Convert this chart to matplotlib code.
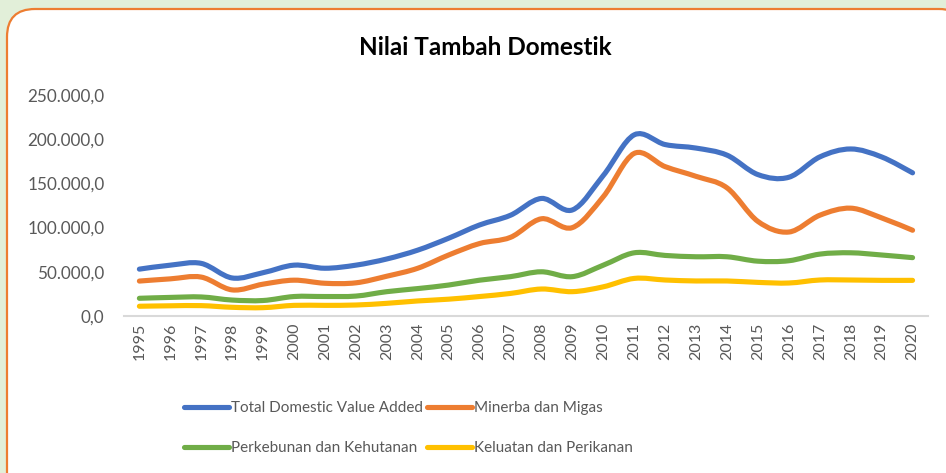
import matplotlib
matplotlib.use('Agg')
import matplotlib.pyplot as plt
from matplotlib.path import Path
from matplotlib.patches import PathPatch, FancyBboxPatch
from matplotlib.lines import Line2D
from matplotlib.ticker import FuncFormatter
import numpy as np

plt.rcParams['font.family'] = ['Lato', 'DejaVu Sans']

years = [str(y) for y in range(1995, 2021)]

total_dva = [53000, 57500, 59500, 43000, 49000, 57500, 54000, 57500, 64500, 74500,
             88000, 103000, 114000, 133000, 120000, 159000, 205000, 194000, 190000, 182000,
             160000, 157000, 180000, 189000, 180000, 162000]
minerba_migas = [39500, 42000, 44000, 29500, 36000, 40500, 37000, 37500, 45000, 54000,
                 69000, 82000, 89000, 110000, 100000, 135000, 184000, 169000, 158000, 145000,
                 107000, 95000, 114000, 122000, 111000, 97000]
perkebunan = [20000, 21000, 21500, 18000, 17500, 22000, 22000, 22500, 27500, 31000,
              35000, 40500, 44500, 50000, 44500, 57500, 71500, 68500, 67000, 67000,
              62000, 62500, 70000, 71500, 69000, 66000]
kelautan = [11000, 11500, 11700, 9800, 9400, 12000, 12000, 12400, 14300, 17000,
            19000, 22000, 25500, 30500, 27500, 33000, 42500, 40700, 39600, 39600,
            38000, 37300, 40700, 40700, 40300, 40300]

series_names = ['Total Domestic Value Added', 'Minerba dan Migas',
                'Perkebunan dan Kehutanan', 'Keluatan dan Perikanan']
series_values = [total_dva, minerba_migas, perkebunan, kelautan]
colors = ['#4472C4', '#ED7D31', '#70AD47', '#FFC000']

text_gray = '#595959'


def smooth_path(xs, ys):
    # excel-like smoothed line: bezier segments with catmull-rom control points
    pts = np.column_stack([xs, ys]).astype(float)
    n = len(pts)
    verts = [pts[0]]
    codes = [Path.MOVETO]
    for i in range(n - 1):
        p0 = pts[i - 1] if i > 0 else pts[i]
        p1 = pts[i]
        p2 = pts[i + 1]
        p3 = pts[i + 2] if i + 2 < n else pts[i + 1]
        c1 = p1 + (p2 - p0) / 6.0
        c2 = p2 - (p3 - p1) / 6.0
        verts += [c1, c2, p2]
        codes += [Path.CURVE4] * 3
    return Path(verts, codes)


fig = plt.figure(figsize=(9.46, 4.73), dpi=100)
fig.patch.set_facecolor('#E2EFD9')

# white card with orange border
card = FancyBboxPatch((0.07, -0.3), 9.6, 4.94,
                      boxstyle='round,pad=0,rounding_size=0.28',
                      transform=fig.dpi_scale_trans, facecolor='white',
                      edgecolor='#ED7D31', linewidth=1.6, zorder=-5)
fig.patches.append(card)

ax = fig.add_axes([0.131, 0.332, 0.850, 0.467])
ax.set_facecolor('none')

x = np.arange(len(years))
for vals, col in zip(series_values, colors):
    patch = PathPatch(smooth_path(x, vals), fill=False, edgecolor=col,
                      linewidth=3.7, capstyle='round', joinstyle='round')
    ax.add_patch(patch)

ax.set_xlim(-0.5, len(years) - 0.5)
ax.set_ylim(0, 250000)
ax.set_yticks(np.arange(0, 250001, 50000))
ax.yaxis.set_major_formatter(FuncFormatter(
    lambda v, p: '{:,.1f}'.format(v).replace(',', 'X').replace('.', ',').replace('X', '.')))
ax.set_xticks(x)
ax.set_xticklabels(years, rotation=90)

for s in ['top', 'right', 'left']:
    ax.spines[s].set_visible(False)
ax.spines['bottom'].set_color('#D9D9D9')
ax.spines['bottom'].set_linewidth(1.5)

ax.tick_params(axis='y', length=0, pad=14, labelsize=12.3, labelcolor=text_gray)
ax.tick_params(axis='x', length=0, pad=5, labelsize=11.5, labelcolor=text_gray)

fig.text(0.513, 0.90, 'Nilai Tambah Domestik', ha='center', va='center',
         fontsize=17.5, fontweight='bold', color='black')

# legend is filled column by column, so order entries to read row-wise
handles = [Line2D([], [], color=c, linewidth=3.7, solid_capstyle='round') for c in colors]
order = [0, 2, 1, 3]
leg = fig.legend([handles[i] for i in order], [series_names[i] for i in order],
                 loc='upper left', bbox_to_anchor=(0.1945, 0.152),
                 ncol=2, frameon=False, fontsize=11, handlelength=2.95,
                 handletextpad=0.1, columnspacing=0.3, labelspacing=1.7,
                 borderaxespad=0, borderpad=0)
for t in leg.get_texts():
    t.set_color(text_gray)

fig.savefig('out.png', dpi=100, facecolor=fig.get_facecolor())
